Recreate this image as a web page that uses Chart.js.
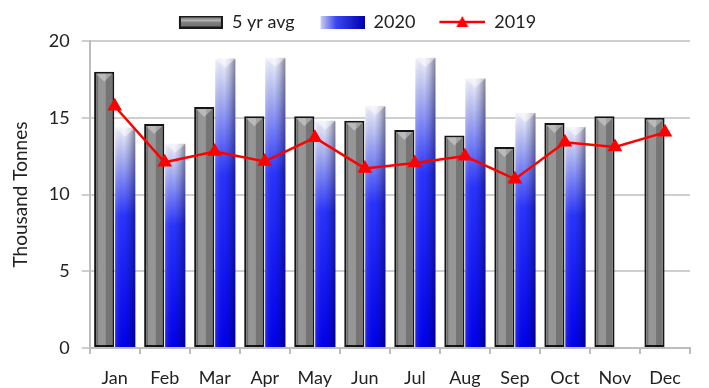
<!DOCTYPE html>
<html>
<head>
<meta charset="utf-8">
<script src="https://cdn.jsdelivr.net/npm/chart.js@4"></script>
<style>
  html, body { margin: 0; padding: 0; background: #fff; }
  #wrap { width: 709px; height: 388px; }
</style>
</head>
<body>
<div id="wrap"><canvas id="c"></canvas></div>
<script>
const MONTHS = ['Jan', 'Feb', 'Mar', 'Apr', 'May', 'Jun', 'Jul', 'Aug', 'Sep', 'Oct', 'Nov', 'Dec'];
const AVG5 = [18.0, 14.6, 15.7, 15.1, 15.1, 14.8, 14.2, 13.85, 13.1, 14.65, 15.1, 15.0];
const Y2020 = [14.35, 13.3, 18.85, 18.9, 14.8, 15.75, 18.9, 17.55, 15.3, 14.4, null, null];
const Y2019 = [15.75, 12.1, 12.8, 12.15, 13.7, 11.7, 12.05, 12.5, 11.0, 13.4, 13.1, 14.05];
const Y_TICKS = [0, 5, 10, 15, 20];

const FONT = 'Lato, "Open Sans", sans-serif';

// small canvases used as legend icons (left part left blank as spacing)
function makeIcon(w, h, draw){
    const cv = document.createElement('canvas');
    cv.width = w; cv.height = h;
    draw(cv.getContext('2d'), w, h);
    return cv;
}
const grayIcon = makeIcon(60, 13, (g, w, h) => {
    const x0 = w - 44;
    g.fillStyle = '#1a1a1a'; g.fillRect(x0, 0, 44, h);
    const gr = g.createLinearGradient(0, 0, 0, h);
    gr.addColorStop(0, '#9a9a9a'); gr.addColorStop(1, '#6a6a6a');
    g.fillStyle = gr; g.fillRect(x0 + 2, 2, 40, h - 4);
    g.fillStyle = 'rgba(255,255,255,0.35)'; g.fillRect(x0 + 2, 4, 40, 2);
});
const blueIcon = makeIcon(60, 13, (g, w, h) => {
    const x0 = w - 44;
    const gr = g.createLinearGradient(x0, 0, w, 0);
    gr.addColorStop(0, '#c9cff5'); gr.addColorStop(0.35, '#3a48f0'); gr.addColorStop(1, '#0000b0');
    g.fillStyle = gr; g.fillRect(x0, 0, 44, h);
});
const lineIcon = makeIcon(60, 14, (g, w, h) => {
    const x0 = w - 46;
    g.strokeStyle = '#ff0000'; g.lineWidth = 2.5;
    g.beginPath(); g.moveTo(x0, h / 2); g.lineTo(w, h / 2); g.stroke();
    const cx = x0 + 23;
    g.fillStyle = '#ff0000';
    g.beginPath(); g.moveTo(cx, 1); g.lineTo(cx + 6, h - 2); g.lineTo(cx - 6, h - 2); g.closePath(); g.fill();
});
const ICONS = [grayIcon, blueIcon, lineIcon];

function blueFill(c){
    const y = c.chart.scales && c.chart.scales.y;
    if (c.type !== 'data' || c.raw == null || !y) return '#2030e0';
    const top = y.getPixelForValue(c.raw);
    const bot = y.getPixelForValue(0);
    if (!isFinite(top) || !isFinite(bot) || bot - top < 1) return '#2030e0';
    const gr = c.chart.ctx.createLinearGradient(0, top, 0, bot);
    gr.addColorStop(0, '#f2f3fc');
    gr.addColorStop(0.12, '#b4bcf4');
    gr.addColorStop(0.4, '#2a34ff');
    gr.addColorStop(1, '#0000ee');
    return gr;
}

// shading and top bevel on each bar, drawn from the bar elements
const barShade = {
    id: 'barShade',
    afterDatasetDraw(chart, args){
        const ds = chart.data.datasets[args.index];
        if (ds.type === 'line') return;
        const ctx = chart.ctx;
        ctx.save();
        args.meta.data.forEach((bar, i) => {
            if (ds.data[i] == null) return;
            const p = bar.getProps(['x', 'y', 'width', 'base'], true);
            if (![p.x, p.y, p.width, p.base].every(isFinite)) return;
            const l = p.x - p.width / 2, r = p.x + p.width / 2, t = p.y, b = p.base;
            if (args.index === 0) {
                ctx.fillStyle = 'rgba(0,0,0,0.22)';
                ctx.fillRect(p.x + p.width * 0.08, t + 2, r - 2 - (p.x + p.width * 0.08), b - t - 2);
                ctx.fillStyle = 'rgba(0,0,0,0.25)';
                ctx.fillRect(l + 2, t + 2, 2, b - t - 2);
                ctx.fillStyle = 'rgba(255,255,255,0.35)';
                ctx.beginPath(); ctx.moveTo(l + 2, t + 2); ctx.lineTo(r - 2, t + 2); ctx.lineTo(p.x, t + 10); ctx.closePath(); ctx.fill();
            } else {
                const gr = ctx.createLinearGradient(l, 0, r, 0);
                gr.addColorStop(0, 'rgba(255,255,255,0.15)');
                gr.addColorStop(0.45, 'rgba(0,0,0,0)');
                gr.addColorStop(0.7, 'rgba(0,0,40,0.15)');
                gr.addColorStop(1, 'rgba(0,0,40,0.45)');
                ctx.fillStyle = gr;
                ctx.fillRect(l, t, r - l, b - t);
                ctx.fillStyle = 'rgba(255,255,255,0.45)';
                ctx.beginPath(); ctx.moveTo(l, t); ctx.lineTo(r, t); ctx.lineTo(p.x, t + 9); ctx.closePath(); ctx.fill();
            }
        });
        ctx.restore();
    }
};

new Chart(document.getElementById('c'), {
    type: 'bar',
    data: {
        labels: MONTHS,
        datasets: [
            {
                label: '5 yr avg',
                data: AVG5,
                backgroundColor: '#969696',
                borderColor: '#151515',
                borderWidth: 2,
                borderSkipped: false,
                categoryPercentage: 0.84,
                barPercentage: 0.96,
                order: 1
            },
            {
                label: '2020',
                data: Y2020,
                backgroundColor: blueFill,
                borderWidth: 0,
                categoryPercentage: 0.84,
                barPercentage: 0.96,
                order: 1
            },
            {
                type: 'line',
                label: '2019',
                data: Y2019,
                borderColor: '#ff0000',
                backgroundColor: '#ff0000',
                borderWidth: 2.5,
                pointStyle: 'triangle',
                pointRadius: 6,
                pointBackgroundColor: '#ff0000',
                pointBorderColor: '#ff0000',
                tension: 0,
                order: 0
            }
        ]
    },
    options: {
        responsive: true,
        maintainAspectRatio: false,
        animation: false,
        layout: { padding: { left: 9, right: 19, top: 3, bottom: 0 } },
        plugins: {
            legend: {
                position: 'top',
                labels: {
                    usePointStyle: true,
                    pointStyleWidth: 60,
                    padding: 10,
                    color: '#222',
                    font: { family: FONT, size: 18 },
                    sort: (a, b) => a.datasetIndex - b.datasetIndex,
                    generateLabels: (chart) => Chart.defaults.plugins.legend.labels.generateLabels(chart)
                        .map(it => Object.assign(it, { pointStyle: ICONS[it.datasetIndex] }))
                }
            },
            tooltip: { enabled: false }
        },
        scales: {
            x: {
                afterFit: (axis) => { axis.height = 40; },
                grid: { display: true, drawOnChartArea: false, color: '#bdbdbd', lineWidth: 2, tickLength: 6 },
                border: { color: '#bdbdbd', width: 2 },
                ticks: { color: '#222', font: { family: FONT, size: 18 }, padding: 13 }
            },
            y: {
                min: 0,
                max: 20,
                afterBuildTicks: (axis) => { axis.ticks = Y_TICKS.map(v => ({ value: v })); },
                grid: { color: '#cfcfcf', lineWidth: 2, tickLength: 8 },
                border: { color: '#bdbdbd', width: 2 },
                ticks: { color: '#222', font: { family: FONT, size: 18 }, padding: 12 },
                title: {
                    display: true,
                    text: 'Thousand Tonnes',
                    color: '#222',
                    font: { family: FONT, size: 19 },
                    padding: { top: 0, bottom: 5 }
                }
            }
        }
    },
    plugins: [barShade]
});
</script>
</body>
</html>
